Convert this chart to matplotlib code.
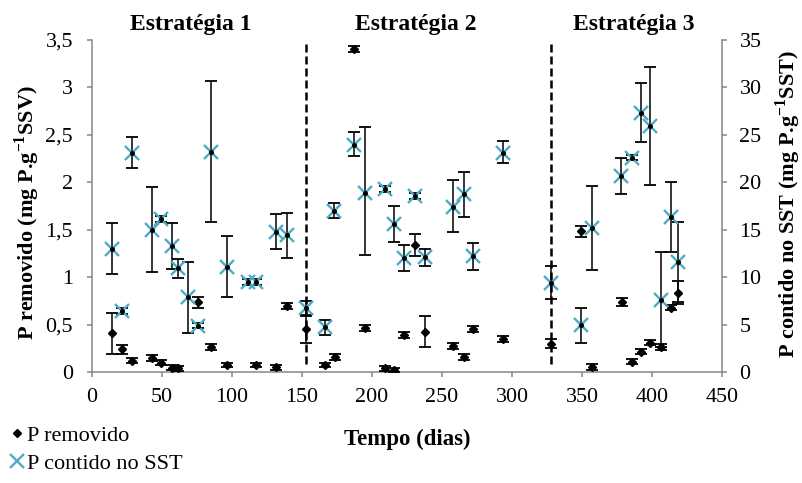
import matplotlib
matplotlib.use("Agg")
import matplotlib.pyplot as plt
from matplotlib.lines import Line2D
from matplotlib.ticker import FuncFormatter, MultipleLocator
import matplotlib.transforms as mtransforms
import numpy as np

plt.rcParams['font.family'] = ['Liberation Serif', 'DejaVu Serif']
plt.rcParams['mathtext.fontset'] = 'custom'
plt.rcParams['mathtext.rm'] = 'Liberation Serif'
plt.rcParams['mathtext.bf'] = 'Liberation Serif:bold'

# P removido (mg P/g SSV), left axis
rem_days = [14.5, 21.7, 28.8, 42.7, 49.5, 57.0, 61.5, 75.8, 84.9, 96.3, 117.5, 131.6, 139.0,
            152.6, 166.7, 173.4, 187.4, 195.0, 209.6, 215.8, 222.7, 230.6, 237.8, 258.2,
            265.4, 272.5, 293.5, 328.1, 349.1, 357.4, 378.4, 385.6, 392.5, 398.4, 406.3,
            413.4, 418.7]
rem_vals = [0.41, 0.24, 0.12, 0.145, 0.10, 0.045, 0.04, 0.735, 0.265, 0.075, 0.075, 0.05, 0.695,
            0.455, 0.075, 0.16, 3.405, 0.465, 0.04, 0.02, 0.39, 1.34, 0.425, 0.277,
            0.16, 0.45, 0.345, 0.30, 1.49, 0.05, 0.74, 0.11, 0.215, 0.31, 0.26,
            0.68, 0.83]
rem_lo = [0.19, 0.19, 0.09, 0.115, 0.07, 0.02, 0.015, 0.678, 0.235, 0.05, 0.05, 0.025, 0.665,
          0.31, 0.05, 0.13, 3.375, 0.435, 0.015, 0.0, 0.36, 1.22, 0.267, 0.247,
          0.13, 0.42, 0.315, 0.25, 1.42, 0.02, 0.70, 0.08, 0.185, 0.28, 0.23,
          0.65, 0.74]
rem_hi = [0.625, 0.285, 0.15, 0.175, 0.13, 0.07, 0.065, 0.794, 0.295, 0.10, 0.10, 0.075, 0.725,
          0.59, 0.10, 0.19, 3.435, 0.495, 0.065, 0.045, 0.42, 1.45, 0.59, 0.307,
          0.19, 0.48, 0.375, 0.35, 1.54, 0.08, 0.78, 0.14, 0.245, 0.34, 0.29,
          0.71, 0.96]

# P contido no SST (mg P/g SST), right axis
sst_days = [14.5, 21.7, 28.8, 42.7, 49.3, 56.8, 61.2, 68.7, 75.8, 84.9, 96.3, 111.1, 117.1,
            131.4, 139.0, 152.6, 166.7, 173.1, 187.4, 195.1, 209.6, 215.8, 222.7, 230.6,
            237.8, 258.2, 265.4, 272.5, 293.5, 328.1, 349.1, 357.4, 378.2, 385.6, 392.5,
            398.4, 406.3, 413.4, 418.7]
sst_vals = [13.0, 6.4, 23.1, 15.0, 16.1, 13.3, 11.0, 7.9, 4.9, 23.2, 11.1, 9.5, 9.5,
            14.8, 14.4, 6.7, 4.7, 17.0, 23.9, 18.9, 19.3, 15.6, 12.0, 18.55,
            12.1, 17.4, 18.8, 12.2, 23.05, 9.35, 4.95, 15.15, 20.7, 22.6, 27.3,
            25.9, 7.6, 16.3, 11.6]
sst_lo = [10.3, 6.1, 21.5, 10.5, 15.8, 10.9, 9.9, 4.1, 4.6, 15.8, 7.9, 9.2, 9.2,
          13.0, 12.0, 6.0, 3.9, 16.2, 22.8, 12.3, 19.0, 13.7, 10.6, 18.25,
          11.2, 14.8, 16.3, 10.75, 22.0, 7.7, 3.1, 10.75, 18.8, 22.3, 24.2,
          19.7, 2.6, 12.7, 7.2]
sst_hi = [15.7, 6.7, 24.8, 19.5, 16.4, 15.7, 11.9, 11.6, 5.2, 30.7, 14.3, 9.8, 9.8,
          16.7, 16.8, 7.45, 5.5, 17.85, 25.3, 25.8, 19.6, 17.5, 13.4, 18.85,
          13.0, 20.2, 21.1, 13.6, 24.4, 11.2, 6.8, 19.6, 22.6, 22.9, 30.5,
          32.2, 12.6, 20.0, 15.8]

phase_breaks = [153, 328]
phase_titles = ['Estratégia 1', 'Estratégia 2', 'Estratégia 3']
phase_title_x = [70.8, 231.5, 387.0]

x_ticks = [0, 50, 100, 150, 200, 250, 300, 350, 400, 450]

AXIS_GRAY = '#868686'
CYAN = '#4BACC6'

fig = plt.figure(figsize=(8.02, 4.83), dpi=100)
ax = fig.add_axes([0.1147, 0.2298, 0.7855, 0.6874])
ax2 = ax.twinx()

# left series: P removido
rem_vals_a = np.array(rem_vals)
rem_err = [rem_vals_a - np.array(rem_lo), np.array(rem_hi) - rem_vals_a]
ax.errorbar(rem_days, rem_vals, yerr=rem_err, fmt='D', color='black', ms=3.8,
            elinewidth=1.1, capsize=4.3, capthick=1.3, zorder=3)

# phase separators
for xb in phase_breaks:
    ax.plot([xb, xb], [0.08, 3.5], color='black', lw=1.8,
            linestyle=(0, (3.2, 1.6)), zorder=2)

# right series: P contido no SST
sst_vals_a = np.array(sst_vals)
sst_err = [sst_vals_a - np.array(sst_lo), np.array(sst_hi) - sst_vals_a]
ax2.errorbar(sst_days, sst_vals, yerr=sst_err, fmt='none', ecolor='black',
             elinewidth=1.1, capsize=4.3, capthick=1.3, zorder=2)
ax2.plot(sst_days, sst_vals, 'x', color=CYAN, ms=9.5, mew=1.7, zorder=3)
ax2.plot(sst_days, sst_vals, 'o', color='black', ms=2.6, zorder=4)

ax.set_xlim(0, 450)
ax.set_ylim(0, 3.5)
ax2.set_ylim(0, 35)
ax.set_xticks(x_ticks)
ax.yaxis.set_major_locator(MultipleLocator(0.5))
ax2.yaxis.set_major_locator(MultipleLocator(5))
ax.yaxis.set_major_formatter(FuncFormatter(lambda v, p: '{:g}'.format(v).replace('.', ',')))

for a in (ax, ax2):
    a.spines['top'].set_visible(False)
    for s in ('left', 'right', 'bottom'):
        a.spines[s].set_color(AXIS_GRAY)
        a.spines[s].set_linewidth(1.1)
    a.tick_params(axis='both', colors=AXIS_GRAY, labelcolor='black', length=3.6,
                  width=1.1, labelsize=15.8, direction='out')
ax.spines['right'].set_visible(False)
ax2.spines['left'].set_visible(False)
ax2.spines['bottom'].set_visible(False)
ax.tick_params(axis='y', pad=10)
ax.tick_params(axis='x', pad=8)
ax2.tick_params(axis='y', pad=9)

ax.set_xlabel('Tempo (dias)', fontsize=16.5, fontweight='bold')
ax.xaxis.set_label_coords(0.5, -0.17)
ax.set_ylabel('P removido (mg P.g$^{\\mathbf{-1}}$SSV)', fontsize=16, fontweight='bold')
ax.yaxis.set_label_coords(-0.08, 0.48)
ax2.set_ylabel('P contido no SST (mg P.g$^{\\mathbf{-1}}$SST)', fontsize=16, fontweight='bold')
ax2.yaxis.set_label_coords(1.082, 0.505)

trans = mtransforms.blended_transform_factory(ax.transData, fig.transFigure)
for xt, title in zip(phase_title_x, phase_titles):
    ax.text(xt, 1 - 30 / 483, title, transform=trans, ha='center', va='baseline',
            fontsize=17, fontweight='bold')

handles = [Line2D([], [], marker='D', color='black', ms=3.8, linestyle='none'),
           Line2D([], [], marker='x', color=CYAN, ms=9.5, mew=1.7, linestyle='none')]
fig.legend(handles, ['P removido', 'P contido no SST'], loc='upper left',
           bbox_to_anchor=(0.012, 0.12), frameon=False, fontsize=16,
           handlelength=0.7, handletextpad=0.1, labelspacing=0.35,
           borderpad=0, borderaxespad=0)

fig.savefig('out.png', dpi=100)
